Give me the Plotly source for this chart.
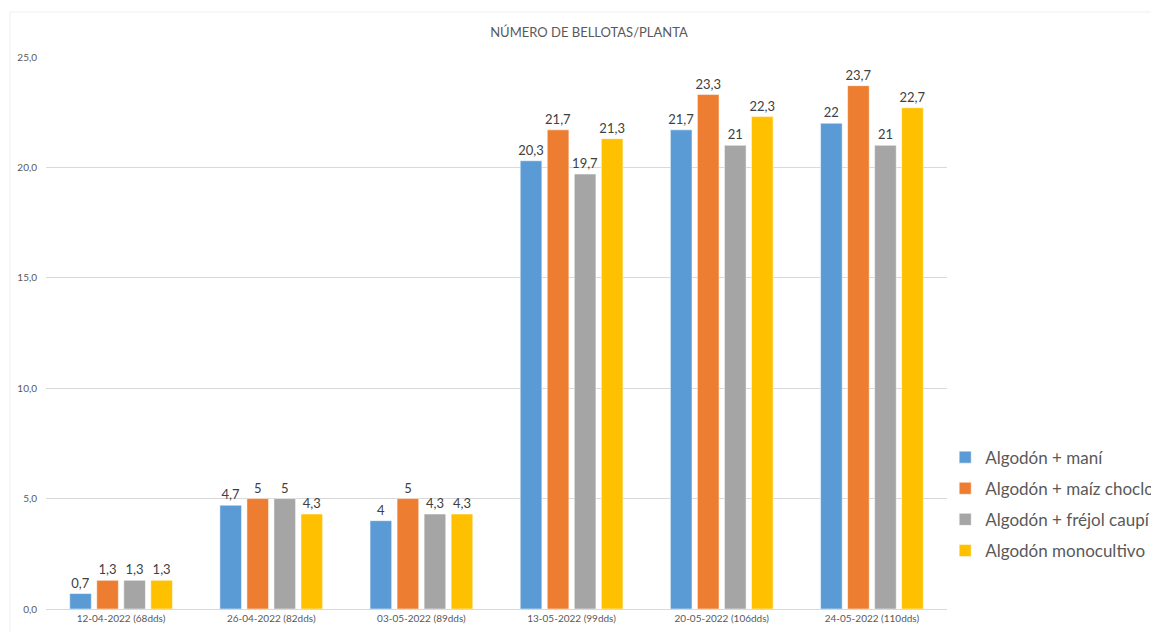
import plotly.graph_objects as go

# Fechas de muestreo (días después de la siembra)
fechas = [
    "12-04-2022 (68dds)",
    "26-04-2022 (82dds)",
    "03-05-2022 (89dds)",
    "13-05-2022 (99dds)",
    "20-05-2022 (106dds)",
    "24-05-2022 (110dds)",
]

# Número de bellotas por planta en cada tratamiento
algodon_mani = [0.7, 4.7, 4.0, 20.3, 21.7, 22.0]
algodon_maiz = [1.3, 5.0, 5.0, 21.7, 23.3, 23.7]
algodon_frejol = [1.3, 5.0, 4.3, 19.7, 21.0, 21.0]
algodon_mono = [1.3, 4.3, 4.3, 21.3, 22.3, 22.7]

tratamientos = [
    ("Algodón + maní", algodon_mani, "#5B9BD5"),
    ("Algodón + maíz choclo", algodon_maiz, "#ED7D31"),
    ("Algodón + fréjol caupí", algodon_frejol, "#A5A5A5"),
    ("Algodón monocultivo", algodon_mono, "#FFC000"),
]

FONT = "Lato, 'Open Sans', sans-serif"


def etiqueta(v):
    s = f"{v:g}"
    return s.replace(".", ",")


fig = go.Figure()
for i, (nombre, valores, color) in enumerate(tratamientos):
    fig.add_trace(
        go.Bar(
            name=nombre,
            x=fechas,
            y=valores,
            marker=dict(color=color, line=dict(color="white", width=0.5)),
            text=[etiqueta(v) for v in valores],
            textposition="outside",
            constraintext="none",
            textfont=dict(size=13, color="#404040", family=FONT),
            cliponaxis=False,
            legendgroup=f"g{i}",
        )
    )

fig.update_layout(
    width=1151,
    height=632,
    paper_bgcolor="white",
    plot_bgcolor="white",
    separators=",.",
    barmode="group",
    bargap=0.28,
    bargroupgap=0.2,
    font=dict(family=FONT, color="#595959"),
    title=dict(
        text="NÚMERO DE BELLOTAS/PLANTA",
        x=589 / 1151,
        xanchor="center",
        y=1 - 32 / 632,
        yanchor="middle",
        font=dict(size=13, color="#595959", family=FONT),
    ),
    margin=dict(l=46, r=204, t=57, b=23, autoexpand=False),
    showlegend=True,
    legend=dict(
        x=0.998,
        xanchor="left",
        y=0.19,
        yanchor="middle",
        traceorder="grouped",
        tracegroupgap=6,
        font=dict(size=17, color="#595959", family=FONT),
        bgcolor="rgba(0,0,0,0)",
    ),
    shapes=[
        dict(
            type="rect",
            xref="paper",
            yref="paper",
            x0=-0.04,
            x1=1.4,
            y0=-0.2,
            y1=1.0815,
            line=dict(color="#EFEFEF", width=1),
            fillcolor="rgba(0,0,0,0)",
            layer="below",
        )
    ],
)

fig.update_xaxes(
    showline=True,
    linecolor="#D9D9D9",
    linewidth=1,
    showgrid=False,
    ticks="",
    tickfont=dict(size=10, color="#595959", family=FONT),
)

fig.update_yaxes(
    range=[0, 25],
    dtick=5,
    tickformat=".1f",
    showgrid=True,
    gridcolor="#D9D9D9",
    gridwidth=1,
    zeroline=False,
    showline=False,
    ticks="",
    ticklabelstandoff=8,
    tickfont=dict(size=10, color="#595959", family=FONT),
)

fig.write_html("out.html")
